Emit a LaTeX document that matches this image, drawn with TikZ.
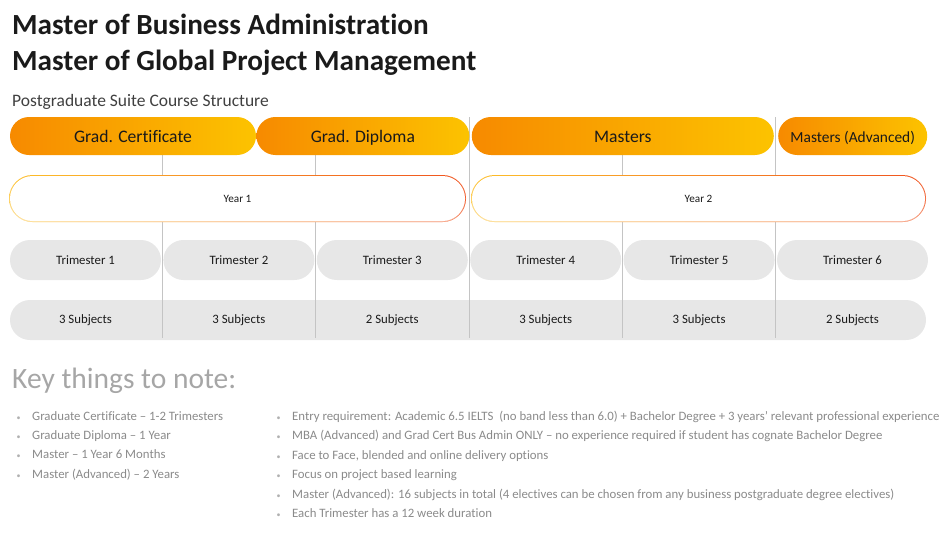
\documentclass[tikz,border=0pt]{standalone}
\usepackage{fontspec}
\setmainfont{Carlito}[Ligatures=NoCommon]
\usetikzlibrary{positioning,calc,fadings}
\definecolor{Ink}{HTML}{1A1A1A}
\definecolor{SubInk}{HTML}{404040}
\definecolor{NoteHead}{HTML}{A6A6A6}
\definecolor{NoteInk}{HTML}{8A8A8A}
\definecolor{Dot}{HTML}{B0B0B0}
\definecolor{Orange}{HTML}{F78A00}
\definecolor{Gold}{HTML}{FCC300}
\definecolor{RingGold}{HTML}{FDC02A}
\definecolor{RingRed}{HTML}{F0521E}
\definecolor{Pale}{HTML}{E7E7E7}
\definecolor{Divider}{HTML}{C4C4C4}
\tikzset{
  award/.style={left color=Orange,right color=Gold,draw=none,minimum height=38pt,rounded corners=19pt,inner sep=0pt,text=Ink,text height=13.4pt,text depth=0pt,font=\fontsize{17.6}{20}\selectfont},
  yearring/.style={left color=RingGold,right color=RingRed,draw=none,minimum height=47pt,rounded corners=23.5pt,inner sep=0pt},
  yearwash/.style={fill=white,fill opacity=.55,path fading=north,draw=none,minimum height=47pt,rounded corners=23.5pt,inner sep=0pt},
  yearcore/.style={fill=white,draw=none,minimum height=45pt,rounded corners=22.5pt,inner sep=0pt,text=Ink,font=\fontsize{11.2}{13}\selectfont},
  term/.style={fill=Pale,draw=none,minimum width=151pt,minimum height=40pt,rounded corners=20pt,inner sep=0pt,text=Ink,font=\fontsize{12.8}{15}\selectfont},
  band/.style={fill=Pale,draw=none,minimum height=40pt,rounded corners=20pt,inner sep=0pt},
  count/.style={inner sep=0pt,text=Ink,font=\fontsize{12.8}{15}\selectfont},
  divider/.style={draw=Divider,line width=1pt},
  notes/.style={anchor=north west,align=left,inner sep=0pt,text=NoteInk,font=\fontsize{12.8}{19.4}\selectfont}
}
\newcommand{\pt}{\textcolor{Dot}{\footnotesize\textbullet}\hspace{11.5pt}}

\begin{document}
\begin{tikzpicture}[x=1pt,y=-1pt]
  \useasboundingbox (0,0) rectangle (951,541);
  % headings
  \node[anchor=base west,inner sep=0pt,text=Ink,font=\fontsize{29.2}{34}\bfseries] (title1) at (12,34) {Master of Business Administration};
  \node[anchor=base west,inner sep=0pt,text=Ink,font=\fontsize{29.2}{34}\bfseries] (title2) at (12,70) {Master of Global Project Management};
  \node[anchor=base west,inner sep=0pt,text=SubInk,font=\fontsize{17.5}{20}\selectfont] (sub) at (12,106) {Postgraduate Suite Course Structure};
  % subjects band and dividers
  \node[band,minimum width=916pt] (subj) at (468,320) {};
  \node[term] (t1) at (85.5,260) {Trimester 1};
  \node[term,right=2pt of t1] (t2) {Trimester 2};
  \node[term,right=2pt of t2] (t3) {Trimester 3};
  \node[term,right=2pt of t3] (t4) {Trimester 4};
  \node[term,right=2pt of t4] (t5) {Trimester 5};
  \node[term,right=2pt of t5] (t6) {Trimester 6};
  \foreach \a/\b in {t1/t2,t2/t3,t3/t4,t4/t5,t5/t6}
    \draw[divider] ($(\a.east)!.5!(\b.west)$) ++(0,-143) -- ++(0,221);
  % awards
  \node[award,minimum width=246pt] (cert) at (133,136) {Grad. Certificate};
  \node[award,minimum width=213pt,right=0pt of cert] (dip) {Grad. Diploma};
  \node[award,minimum width=302pt,right=2pt of dip] (mast) {Masters};
  \node[award,minimum width=149pt,right=4pt of mast,font=\fontsize{15.4}{18}\selectfont] (adv) {Masters (Advanced)};
  % years
  \node[yearring,minimum width=457pt] (y1) at (237.5,198.5) {};
  \node[yearwash,minimum width=457pt] (y1w) at (y1) {};
  \node[yearcore,minimum width=455pt] (y1c) at (y1) {Year 1};
  \node[yearring,minimum width=455pt] (y2) at (698.5,198.5) {};
  \node[yearwash,minimum width=455pt] (y2w) at (y2) {};
  \node[yearcore,minimum width=453pt] (y2c) at (y2) {Year 2};
  % subject counts
  \node[count] (c1) at (t1 |- subj) {3 Subjects};
  \node[count] (c2) at (t2 |- subj) {3 Subjects};
  \node[count] (c3) at (t3 |- subj) {2 Subjects};
  \node[count] (c4) at (t4 |- subj) {3 Subjects};
  \node[count] (c5) at (t5 |- subj) {3 Subjects};
  \node[count] (c6) at (t6 |- subj) {2 Subjects};
  % notes
  \node[anchor=base west,inner sep=0pt,text=NoteHead,font=\fontsize{29.5}{34}\selectfont] (key) at (12,388) {Key things to note:};
  \node[notes] (left) at (16.5,411) {\pt Graduate Certificate -- 1-2 Trimesters\\
    \pt Graduate Diploma -- 1 Year\\
    \pt Master -- 1 Year 6 Months\\
    \pt Master (Advanced) -- 2 Years};
  \node[notes] (right) at (276.5,411) {\pt Entry requirement: Academic 6.5 IELTS\ \ (no band less than 6.0) + Bachelor Degree + 3 years’ relevant professional experience\\
    \pt MBA (Advanced) and Grad Cert Bus Admin ONLY -- no experience required if student has cognate Bachelor Degree\\
    \pt Face to Face, blended and online delivery options\\
    \pt Focus on project based learning\\
    \pt Master (Advanced): 16 subjects in total (4 electives can be chosen from any business postgraduate degree electives)\\
    \pt Each Trimester has a 12 week duration};
\end{tikzpicture}
\end{document}
